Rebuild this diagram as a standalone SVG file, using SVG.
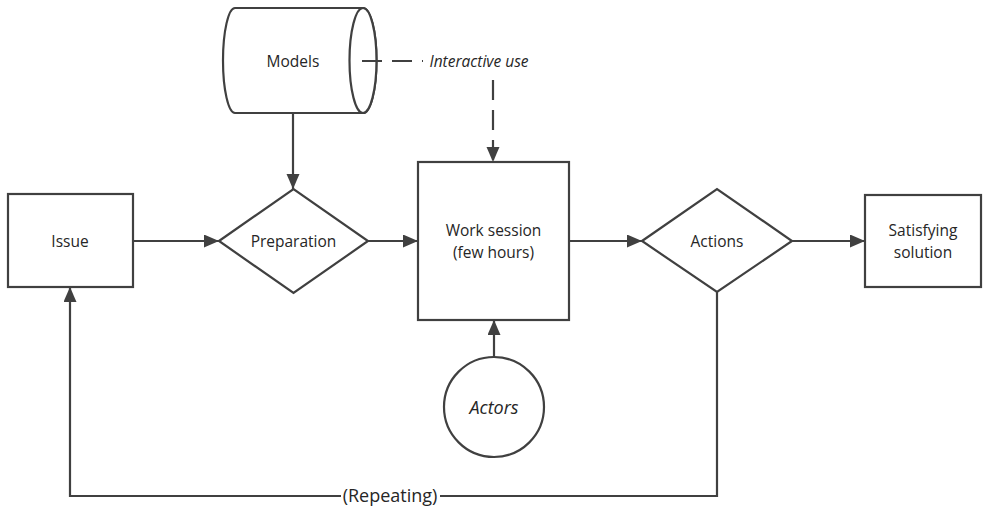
<svg xmlns="http://www.w3.org/2000/svg" width="989" height="507" viewBox="0 0 989 507">
<style>
.shape{fill:#fff;stroke:#404040;stroke-width:2.2}
.conn{fill:none;stroke:#404040;stroke-width:2.2}
.dash{stroke-dasharray:20 10}
text{font-family:"Open Sans","Liberation Sans",sans-serif;font-size:15.5px;fill:#262626;text-anchor:middle;dominant-baseline:central}
.it{font-style:italic}
.big{font-size:18px}
</style>
<defs>
<marker id="arr" markerUnits="userSpaceOnUse" markerWidth="16" markerHeight="14" refX="15" refY="6.5" orient="auto">
<path d="M0,0 L15,6.5 L0,13 z" fill="#404040"/>
</marker>
</defs>
<g id="models">
<path class="shape" d="M235,8 H363 A13.5,52.5 0 0 1 363,113 H235 A12,52.5 0 0 1 235,8 Z"/>
<ellipse class="shape" cx="363" cy="60.5" rx="13.5" ry="52.5" fill="none"/>
<text x="293" y="61">Models</text>
</g>
<g id="issue">
<rect class="shape" x="8" y="194" width="125" height="93"/>
<text x="70" y="241">Issue</text>
</g>
<g id="preparation">
<path class="shape" d="M219,241 L293.5,189 L368,241 L293.5,293 Z"/>
<text x="293.5" y="241">Preparation</text>
</g>
<g id="work-session">
<rect class="shape" x="418" y="162" width="151" height="158"/>
<text x="493.5" y="230">Work session</text>
<text x="493.5" y="252">(few hours)</text>
</g>
<g id="actions">
<path class="shape" d="M642,241 L717,189 L792,241 L717,292 Z"/>
<text x="717" y="241">Actions</text>
</g>
<g id="satisfying-solution">
<rect class="shape" x="865" y="195" width="116" height="92"/>
<text x="923" y="230">Satisfying</text>
<text x="923" y="252">solution</text>
</g>
<g id="actors">
<circle class="shape" cx="494" cy="407" r="50"/>
<text class="it big" x="494" y="407">Actors</text>
</g>
<g id="connectors">
<path class="conn" d="M133,241 H219" marker-end="url(#arr)"/>
<path class="conn" d="M368,241 H418" marker-end="url(#arr)"/>
<path class="conn" d="M569,241 H642" marker-end="url(#arr)"/>
<path class="conn" d="M792,241 H865" marker-end="url(#arr)"/>
<path class="conn" d="M293,113 V189" marker-end="url(#arr)"/>
<path class="conn" d="M494,357 V320" marker-end="url(#arr)"/>
<path class="conn" d="M717,292 V496 H70 V287" marker-end="url(#arr)"/>
<path class="conn dash" d="M362,61 H493 V162" marker-end="url(#arr)"/>
<rect x="423" y="50" width="113" height="21" fill="#fff"/>
<text class="it" x="479" y="61">Interactive use</text>
<rect x="341" y="485" width="99" height="22" fill="#fff"/>
<text class="big" x="390" y="495">(Repeating)</text>
</g>
</svg>
